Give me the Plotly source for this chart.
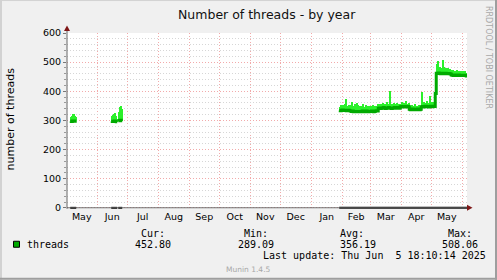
import pandas as pd
import plotly.graph_objects as go

# ---------------- data ----------------
seg1_start = "2024-05-05"
seg1_avg = [297, 296, 298, 298, 297, 298]
seg1_max = [312, 316, 322, 323, 315, 312]

seg2_start = "2024-06-15"
seg2_avg = [297, 296, 297, 298, 296, 295]
seg2_max = [314, 318, 322, 325, 316, 305]

seg3_start = "2024-06-22"
seg3_avg = [299, 300, 301, 299]
seg3_max = [328, 346, 348, 340]

seg4_start = "2025-01-29"
seg4_avg = [
    334, 333, 335,
    336, 335, 334, 335, 333, 334, 335, 333, 332, 331, 332, 330, 331, 330,
    331, 330, 331, 330, 331, 330, 332, 331, 330, 331, 332, 331, 330, 331,
    331, 332, 331, 330, 331, 332, 333, 332,
    342, 343, 341, 342, 343, 344, 342, 341, 342, 343, 344, 342, 343, 341,
    342, 343, 344, 342, 343, 344, 343, 342,
    347,
    348, 347, 346, 348, 347, 346, 347, 348,
    338, 337, 338, 339, 337, 338, 337, 338, 339, 338, 337, 338,
    347, 348, 346, 347, 349, 348, 347, 346, 348, 349,
    348, 347, 349, 348,
    392,
    462, 461, 463, 462, 460, 461, 462, 461, 460, 462, 461, 460, 461, 460, 459,
    456, 455, 454, 456, 455, 454, 455, 456, 454, 455, 454,
    455, 454, 455, 454, 452.8,
]
seg4_max = [
    347, 352, 345,
    352, 348, 356, 375, 350, 349, 353, 345, 352, 362, 350, 347, 355, 346,
    361, 352, 344, 350, 348, 345, 358, 347, 343, 352, 346, 349, 344, 351,
    346, 349, 352, 345, 350, 347, 351, 355,
    356, 353, 358, 352, 360, 355, 351, 357, 362, 354, 356, 400, 357, 352,
    355, 359, 353, 356, 361, 354, 358, 352,
    358,
    362, 356, 360, 358, 365, 355, 357, 359,
    350, 346, 352, 348, 345, 355, 347, 350, 346, 353, 349, 351,
    396, 358, 362, 356, 360, 365, 357, 361, 383, 359,
    364, 358, 362, 370,
    455,
    495, 503, 478, 485, 472, 480, 508, 482, 476, 479, 474, 481, 470, 477, 473,
    468, 472, 466, 470, 465, 473, 467, 469, 464, 471, 466,
    468, 465, 470, 463, 462,
]

x_start = "2024-05-01 18:10:14"
x_end = "2025-06-05 18:10:14"

month_labels = ["May", "Jun", "Jul", "Aug", "Sep", "Oct", "Nov", "Dec",
                "Jan", "Feb", "Mar", "Apr", "May"]
month_label_dates = ["2024-05-16 12:00", "2024-06-16", "2024-07-16 12:00",
                     "2024-08-16 12:00", "2024-09-16", "2024-10-16 12:00",
                     "2024-11-16", "2024-12-16 12:00", "2025-01-16 12:00",
                     "2025-02-15", "2025-03-16 12:00", "2025-04-16",
                     "2025-05-16 12:00"]
month_starts = ["2024-06-01", "2024-07-01", "2024-08-01", "2024-09-01",
                "2024-10-01", "2024-11-01", "2024-12-01", "2025-01-01",
                "2025-02-01", "2025-03-01", "2025-04-01", "2025-05-01",
                "2025-06-01"]
y_ticks = [0, 100, 200, 300, 400, 500, 600]

series_name = "threads"
stat_cur, stat_min, stat_avg, stat_max = "452.80", "289.09", "356.19", "508.06"
last_update = "Thu Jun  5 18:10:14 2025"

# ---------------- styling ----------------
W, H = 497, 280
PL, PR, PT, PB = 67, 467, 33, 209.2
DARK = "#00AA00"
BRIGHT = "#2BF02B"
MGRID = "#F2AAAA"
NGRID = "#D6D6D6"
SANS = "DejaVu Sans"
MONO = "DejaVu Sans Mono"


def px(x):
    return (x - PL) / (PR - PL)


def py(y):
    return (PB - y) / (PB - PT)


segments = [(seg1_start, seg1_avg, seg1_max),
            (seg2_start, seg2_avg, seg2_max),
            (seg3_start, seg3_avg, seg3_max),
            (seg4_start, seg4_avg, seg4_max)]

day = pd.Timedelta(days=1)
fig = go.Figure()

bar_x, bar_base, bar_h = [], [], []
line_x, line_y = [], []
for start, avg, mx in segments:
    dates = pd.date_range(start, periods=len(avg), freq="D")
    for d, a, m in zip(dates, avg, mx):
        bar_x.append(d + pd.Timedelta(hours=12))
        bar_base.append(a)
        bar_h.append(m - a)
    line_x += list(dates) + [dates[-1] + day, None]
    line_y += list(avg) + [avg[-1], None]

fig.add_trace(go.Bar(x=bar_x, y=bar_h, base=bar_base, width=86400000,
                     marker=dict(color=BRIGHT, line=dict(width=0)),
                     showlegend=False, hoverinfo="skip"))
fig.add_trace(go.Scatter(x=line_x, y=line_y, mode="lines",
                         line=dict(color=DARK, width=3, shape="hv"),
                         connectgaps=False, showlegend=False,
                         name=series_name))

for i, (start, avg, mx) in enumerate(segments):
    s = pd.Timestamp(start)
    e = s + day * len(avg)
    if i == len(segments) - 1:
        e = pd.Timestamp(x_end) + day
    fig.add_trace(go.Scatter(x=[s, e], y=[0, 0], mode="lines",
                             line=dict(color="#000000", width=2),
                             showlegend=False, hoverinfo="skip"))

shapes = [
    # frame
    dict(type="line", xref="paper", yref="paper", x0=px(0), x1=px(497),
         y0=py(0.5), y1=py(0.5), line=dict(color="#D2D2D2", width=1)),
    dict(type="line", xref="paper", yref="paper", x0=px(1), x1=px(1),
         y0=py(0), y1=py(280), line=dict(color="#D2D2D2", width=2)),
    dict(type="line", xref="paper", yref="paper", x0=px(0), x1=px(497),
         y0=py(279), y1=py(279), line=dict(color="#9E9E9E", width=2)),
    dict(type="line", xref="paper", yref="paper", x0=px(496), x1=px(496),
         y0=py(0), y1=py(280), line=dict(color="#9E9E9E", width=2)),
    # axes
    dict(type="line", xref="paper", yref="paper", x0=px(67), x1=px(67),
         y0=py(209), y1=py(29), line=dict(color="#666666", width=1)),
    dict(type="line", xref="paper", yref="paper", x0=px(67), x1=px(468),
         y0=py(208), y1=py(208), line=dict(color="#666666", width=1)),
    dict(type="path", xref="paper", yref="paper",
         path=f"M {px(67)},{py(25.5)} L {px(64)},{py(31)} L {px(70)},{py(31)} Z",
         fillcolor="#7E1616", line=dict(width=0)),
    dict(type="path", xref="paper", yref="paper",
         path=f"M {px(472.5)},{py(208)} L {px(467)},{py(205)} L {px(467)},{py(211)} Z",
         fillcolor="#7E1616", line=dict(width=0)),
    # legend swatch
    dict(type="rect", xref="paper", yref="paper", x0=px(13.5), x1=px(19.5),
         y0=py(247.5), y1=py(241.5), fillcolor=DARK,
         line=dict(color="#000000", width=1)),
]


def ann(text, x, y, size, font=SANS, color="#000000", xanchor="left",
        angle=0):
    return dict(text=text, x=px(x), y=py(y), xref="paper", yref="paper",
                xanchor=xanchor, yanchor="middle", showarrow=False,
                textangle=angle, font=dict(family=font, size=size, color=color),
                borderpad=0)


nb = "\u00a0"
annotations = [
    ann("Number of threads - by year", 267, 14, 12.5, xanchor="center",
        color="#111111"),
    ann("number of threads", 10.5, 119, 11, xanchor="center", angle=-90),
    ann("RRDTOOL / TOBI OETIKER", 488, 57, 8, xanchor="center",
        color="#A8A8A8", angle=90),
    ann(series_name, 26, 244.7, 10, font=MONO),
    ann("Cur:", 140, 233.3, 10, font=MONO),
    ann(stat_cur, 134, 244.7, 10, font=MONO),
    ann("Min:", 243, 233.3, 10, font=MONO),
    ann(stat_min, 237, 244.7, 10, font=MONO),
    ann("Avg:", 339, 233.3, 10, font=MONO),
    ann(stat_avg, 339, 244.7, 10, font=MONO),
    ann("Max:", 446.5, 233.3, 10, font=MONO),
    ann(stat_max, 441, 244.7, 10, font=MONO),
    ann(("Last update: " + last_update).replace("  ", nb + nb), 261.5, 256,
        10, font=MONO),
    ann("Munin 1.4.5", 248, 269.5, 7.5, xanchor="center", color="#A8A8A8"),
]

fig.update_layout(
    width=W, height=H, autosize=False,
    margin=dict(l=PL, r=W - PR, t=PT, b=H - PB, pad=0),
    paper_bgcolor="#F0F0F0", plot_bgcolor="#FFFFFF",
    barmode="overlay", bargap=0, showlegend=False,
    shapes=shapes, annotations=annotations,
    xaxis=dict(type="date", range=[x_start, x_end], tickmode="array",
               tickvals=month_label_dates, ticktext=month_labels,
               ticks="", showgrid=False, showline=False, zeroline=False,
               tickfont=dict(family=SANS, size=9.5, color="#000000"),
               minor=dict(tickmode="array", tickvals=month_starts,
                          showgrid=True, gridcolor=MGRID, griddash="1px,2px",
                          gridwidth=1, ticks=""),
               fixedrange=True),
    yaxis=dict(range=[-4, 600], tickmode="array", tickvals=y_ticks,
               ticks="outside", ticklen=3, tickcolor="#777777",
               showgrid=True, gridcolor=MGRID, griddash="1px,2px",
               gridwidth=1, showline=False, zeroline=False,
               tickfont=dict(family=SANS, size=9.5, color="#000000"),
               minor=dict(dtick=20, tick0=0, showgrid=True, gridcolor=NGRID,
                          griddash="1px,2px", ticks="outside", ticklen=2,
                          tickcolor="#999999"),
               fixedrange=True),
)

fig.write_html("out.html")
